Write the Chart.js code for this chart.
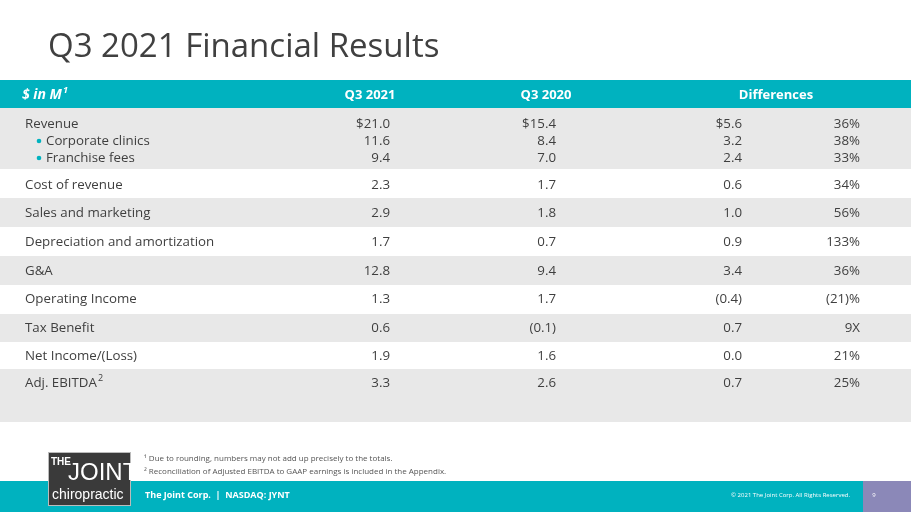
<!DOCTYPE html>
<html>
<head>
<meta charset="utf-8">
<script src="https://cdn.jsdelivr.net/npm/chart.js@4.4.0/dist/chart.umd.min.js"></script>
<style>
  html, body { margin: 0; padding: 0; background: #fff; }
  #wrap { width: 911px; height: 512px; position: relative; }
</style>
</head>
<body>
<div id="wrap"><canvas id="finChart"></canvas></div>
<script>
// Table data
const rowLabels = ['Revenue', 'Corporate clinics', 'Franchise fees', 'Cost of revenue', 'Sales and marketing',
    'Depreciation and amortization', 'G&A', 'Operating Income', 'Tax Benefit', 'Net Income/(Loss)', 'Adj. EBITDA'];
const q3_2021 = ['$21.0', '11.6', '9.4', '2.3', '2.9', '1.7', '12.8', '1.3', '0.6', '1.9', '3.3'];
const q3_2020 = ['$15.4', '8.4', '7.0', '1.7', '1.8', '0.7', '9.4', '1.7', '(0.1)', '1.6', '2.6'];
const diffAmt = ['$5.6', '3.2', '2.4', '0.6', '1.0', '0.9', '3.4', '(0.4)', '0.7', '0.0', '0.7'];
const diffPct = ['36%', '38%', '33%', '34%', '56%', '133%', '36%', '(21)%', '9X', '21%', '25%'];
const headers = ['$ in M', 'Q3 2021', 'Q3 2020', 'Differences'];

// Layout (page units, y measured from top)
const rowCenters = [124, 141, 158, 185, 213, 242, 271, 299, 328, 356, 383];
const bands = [[108, 169, 1], [169, 198, 0], [198, 227, 1], [227, 256, 0], [256, 285, 1],
    [285, 314, 0], [314, 342, 1], [342, 369, 0], [369, 422, 1]];
const bullets = [false, true, true, false, false, false, false, false, false, false, false];

const TEAL = '#00b2bf';
const TXT = '#3f3f3f';
const BODY = '13.3px "Open Sans", sans-serif';

const slidePlugin = {
    id: 'slide',
    beforeDatasetsDraw(chart) {
        const { ctx, scales: { x, y } } = chart;
        const px = v => x.getPixelForValue(v);
        const py = v => y.getPixelForValue(v);
        ctx.save();

        // Title
        ctx.fillStyle = '#404040';
        ctx.font = '33px "Open Sans", sans-serif';
        ctx.textBaseline = 'middle';
        ctx.textAlign = 'left';
        ctx.fillText('Q3 2021 Financial Results', px(48), py(48));

        // Header bar
        ctx.fillStyle = TEAL;
        ctx.fillRect(px(0), py(80), px(911) - px(0), py(108) - py(80));
        ctx.fillStyle = '#fff';
        ctx.font = 'italic bold 14px "Open Sans", sans-serif';
        ctx.fillText(headers[0], px(22), py(95));
        const hw = ctx.measureText(headers[0]).width;
        ctx.font = 'italic bold 9px "Open Sans", sans-serif';
        ctx.fillText('1', px(22) + hw + 1, py(90));
        ctx.font = 'bold 13px "Open Sans", sans-serif';
        ctx.textAlign = 'center';
        ctx.fillText(headers[1], px(370), py(95));
        ctx.fillText(headers[2], px(546), py(95));
        ctx.fillText(headers[3], px(776), py(95));

        // Row bands
        bands.forEach(([a, b, g]) => {
            ctx.fillStyle = g ? '#e8e8e8' : '#ffffff';
            ctx.fillRect(px(0), py(a), px(911) - px(0), py(b) - py(a));
        });

        // Row text
        ctx.font = BODY;
        rowLabels.forEach((lab, i) => {
            const yy = py(rowCenters[i]);
            ctx.textAlign = 'left';
            if (bullets[i]) {
                ctx.fillStyle = TEAL;
                ctx.beginPath();
                ctx.arc(px(39), yy, 2.3, 0, Math.PI * 2);
                ctx.fill();
                ctx.fillStyle = TXT;
                ctx.fillText(lab, px(46), yy);
            } else {
                ctx.fillStyle = TXT;
                ctx.fillText(lab, px(25), yy);
                if (lab === 'Adj. EBITDA') {
                    const w = ctx.measureText(lab).width;
                    ctx.font = '9px "Open Sans", sans-serif';
                    ctx.fillText('2', px(25) + w + 1, yy - 5);
                    ctx.font = BODY;
                }
            }
            ctx.textAlign = 'right';
            ctx.fillText(q3_2021[i], px(390), yy);
            ctx.fillText(q3_2020[i], px(556), yy);
            ctx.fillText(diffAmt[i], px(742), yy);
            ctx.fillText(diffPct[i], px(860), yy);
        });

        // Footnotes
        ctx.textAlign = 'left';
        ctx.fillStyle = '#555';
        ctx.font = '8px "Open Sans", sans-serif';
        ctx.fillText('¹ Due to rounding, numbers may not add up precisely to the totals.', px(144), py(459));
        ctx.fillText('² Reconciliation of Adjusted EBITDA to GAAP earnings is included in the Appendix.', px(144), py(472));

        // Footer
        ctx.fillStyle = TEAL;
        ctx.fillRect(px(0), py(481), px(911) - px(0), py(512) - py(481));
        ctx.fillStyle = '#8b88b8';
        ctx.fillRect(px(863), py(481), px(911) - px(863), py(512) - py(481));
        ctx.fillStyle = '#fff';
        ctx.font = 'bold 9px "Open Sans", sans-serif';
        ctx.fillText('The Joint Corp.  |  NASDAQ: JYNT', px(145), py(495));
        ctx.font = '6px "Open Sans", sans-serif';
        ctx.textAlign = 'right';
        ctx.fillText('© 2021 The Joint Corp. All Rights Reserved.', px(850), py(495));
        ctx.textAlign = 'center';
        ctx.fillText('9', px(874), py(495));

        // Logo
        ctx.fillStyle = '#3a3a3a';
        ctx.fillRect(px(48), py(452), px(131) - px(48), py(506) - py(452));
        ctx.strokeStyle = '#bbb';
        ctx.lineWidth = 1;
        ctx.strokeRect(px(48) + 0.5, py(452) + 0.5, px(131) - px(48) - 1, py(506) - py(452) - 1);
        ctx.fillStyle = '#fff';
        ctx.textAlign = 'left';
        ctx.font = 'bold 10px "Liberation Sans Narrow", sans-serif';
        ctx.fillText('THE', px(51), py(462));
        ctx.font = '24px "Liberation Sans Narrow", sans-serif';
        ctx.fillText('JOINT', px(68), py(473));
        ctx.font = '14px "Liberation Sans Narrow", sans-serif';
        ctx.fillText('chiropractic', px(52), py(495));
        ctx.restore();
    }
};

new Chart(document.getElementById('finChart'), {
    type: 'scatter',
    data: { datasets: [{ data: [], pointRadius: 0 }] },
    options: {
        responsive: true,
        maintainAspectRatio: false,
        animation: false,
        layout: { padding: 0 },
        plugins: { legend: { display: false }, tooltip: { enabled: false } },
        scales: {
            x: { type: 'linear', min: 0, max: 911, display: false },
            y: { type: 'linear', min: 0, max: 512, reverse: true, display: false }
        }
    },
    plugins: [slidePlugin]
});
</script>
</body>
</html>
